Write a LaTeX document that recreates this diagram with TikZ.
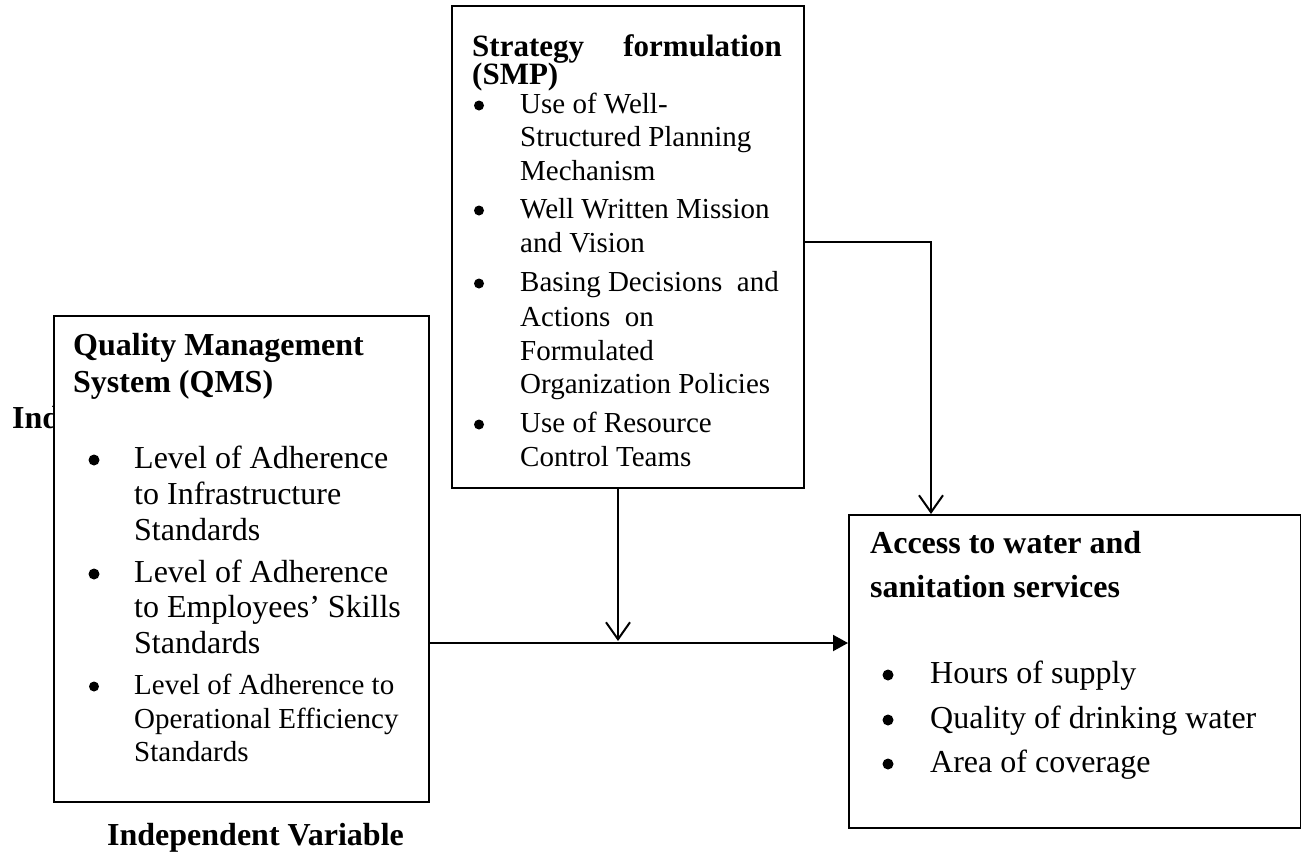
\documentclass[tikz,border=0pt]{standalone}
\usepackage{fontspec}
\setmainfont{Liberation Serif}
\usetikzlibrary{arrows.meta}
\begin{document}
\begin{tikzpicture}[x=1pt,y=-1pt,
  boxst/.style={draw=black, line width=2pt, fill=white, inner sep=0pt, anchor=north west},
  ln/.style={anchor=base west, inner sep=0pt, font=\fontsize{32}{36}\selectfont},
  lns/.style={anchor=base west, inner sep=0pt, font=\fontsize{29}{34}\selectfont},
  hd/.style={anchor=base west, inner sep=0pt, font=\fontsize{32}{36}\selectfont\bfseries},
  bl/.style={circle, fill=black, inner sep=0pt, minimum size=11pt},
  bls/.style={circle, fill=black, inner sep=0pt, minimum size=10pt},
  conn/.style={line width=2pt},
  vtip/.style={-{Straight Barb[length=17pt,width=24pt]}},
  ttip/.style={-{Triangle[length=15pt,width=16pt]}}
]
\useasboundingbox (0,0) rectangle (1301,857);

% partially hidden label
\node[hd] (ind) at (12,428) {Ind};

% boxes
\node[boxst, minimum width=375pt, minimum height=486pt] (qms) at (53,315) {};
\node[boxst, minimum width=352pt, minimum height=482pt] (smp) at (451,5) {};
\node[boxst, minimum width=452pt, minimum height=313pt] (acc) at (848,514) {};

% QMS text
\node[hd] (q1) at (73,355) {Quality Management};
\node[hd] (q2) at (73,392) {System (QMS)};
\node[bl] (qb1) at (94,460) {};
\node[ln] (q3) at (134,468) {Level of Adherence};
\node[ln] (q4) at (134,504) {to Infrastructure};
\node[ln] (q5) at (134,540) {Standards};
\node[bl] (qb2) at (94,574) {};
\node[ln] (q6) at (134,582) {Level of Adherence};
\node[ln] (q7) at (134,617) {to Employees’ Skills};
\node[ln] (q8) at (134,653) {Standards};
\node[bls] (qb3) at (94,686.5) {};
\node[lns] (q9) at (134,694) {Level of Adherence to};
\node[lns] (q10) at (134,728) {Operational Efficiency};
\node[lns] (q11) at (134,761) {Standards};

% SMP text
\node[hd, font=\fontsize{31}{34}\selectfont\bfseries] (s1) at (472,56) {Strategy};
\node[hd, anchor=base east, font=\fontsize{31}{34}\selectfont\bfseries] (s2) at (782,56) {formulation};
\node[hd, font=\fontsize{31}{34}\selectfont\bfseries] (s3) at (472,84) {(SMP)};
\node[bls] (sb1) at (479,105.5) {};
\node[lns] (s4) at (520,113) {Use of Well-};
\node[lns] (s5) at (520,146) {Structured Planning};
\node[lns] (s6) at (520,180) {Mechanism};
\node[bls] (sb2) at (479,210.5) {};
\node[lns] (s7) at (520,218) {Well Written Mission};
\node[lns] (s8) at (520,252) {and Vision};
\node[bls] (sb3) at (479,283.5) {};
\node[lns] (s9) at (520,291) {Basing Decisions\ \ and};
\node[lns] (s10) at (520,326) {Actions\ \ on};
\node[lns] (s11) at (520,360) {Formulated};
\node[lns] (s12) at (520,393) {Organization Policies};
\node[bls] (sb4) at (479,424.5) {};
\node[lns] (s13) at (520,432) {Use of Resource};
\node[lns] (s14) at (520,466) {Control Teams};

% Access text
\node[hd] (a1) at (870,553) {Access to water and};
\node[hd] (a2) at (870,597) {sanitation services};
\node[bl] (ab1) at (888,675) {};
\node[ln] (a3) at (930,683) {Hours of supply};
\node[bl] (ab2) at (888,720) {};
\node[ln] (a4) at (930,728) {Quality of drinking water};
\node[bl] (ab3) at (888,764) {};
\node[ln] (a5) at (930,772) {Area of coverage};

% bottom label
\node[hd] (iv) at (107,845) {Independent Variable};

% connectors
\coordinate (hy) at (0,643);
\coordinate (mid) at (618,641);
\coordinate (corner) at (931,242);
\draw[conn, ttip] (qms.east |- hy) -- (acc.west |- hy);
\draw[conn, vtip] (smp.south -| mid) -- (mid);
\draw[conn, vtip] (smp.east |- corner) -| (acc.north -| corner);
\end{tikzpicture}
\end{document}
